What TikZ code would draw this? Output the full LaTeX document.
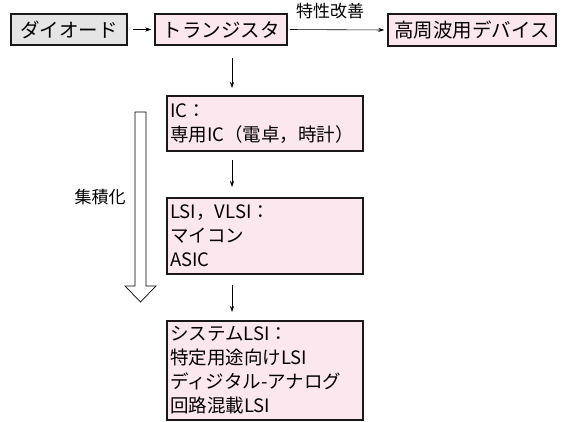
\documentclass[tikz,border=0pt]{standalone}
\usepackage{fontspec}
\setmainfont{Noto Sans CJK JP}
\usetikzlibrary{arrows.meta,calc}
\definecolor{pinkfill}{RGB}{252,231,239}
\definecolor{grayfill}{RGB}{229,229,229}
\definecolor{edge}{RGB}{25,25,25}
\begin{document}
\begin{tikzpicture}[x=1pt,y=-1pt,
  box/.style={draw=edge,line width=1.5pt,fill=pinkfill,inner sep=0pt,font=\fontsize{18.5}{24}\selectfont},
  topbox/.style={box,minimum height=31pt,font=\fontsize{19.5}{24}\selectfont},
  listbox/.style={box,text width=189pt,align=left,minimum width=196pt,anchor=north west,inner xsep=3.5pt,inner ysep=3pt},
  arr/.style={-{Stealth[length=6pt,width=4pt]},line width=0.6pt,draw=black},
  lab/.style={font=\fontsize{17}{20}\selectfont}
]
\useasboundingbox (0,0) rectangle (561,421);
\node[topbox,fill=grayfill,minimum width=116pt] (di) at (69,29.5) {ダイオード};
\node[topbox,minimum width=132pt] (tr) at (221,29.5) {トランジスタ};
\node[topbox,minimum width=168pt,minimum height=32pt] (hf) at (472,30) {高周波用デバイス};
\node[listbox,minimum height=55pt] (ic) at (166,95) {IC：\\専用IC（電卓，時計）};
\node[listbox,minimum height=76pt] (lsi) at (166,197) {LSI，VLSI：\\マイコン\\ASIC};
\node[listbox,minimum height=99pt] (sys) at (166,320) {システムLSI：\\特定用途向けLSI\\ディジタル-アナログ\\回路混載LSI};
\coordinate (vx) at (232,0);
\draw[arr,shorten <=5pt,shorten >=3pt] (di.east) -- (tr.west);
\draw[arr,shorten <=2pt,shorten >=3pt] (tr.east) -- (hf.west);
\node[lab] (imp) at (330,11) {特性改善};
\draw[arr,shorten <=12pt,shorten >=7pt] (tr.south -| vx) -- (ic.north -| vx);
\draw[arr,shorten <=8pt,shorten >=10pt] (ic.south -| vx) -- (lsi.north -| vx);
\draw[arr,shorten <=10pt,shorten >=8pt] (lsi.south -| vx) -- (sys.north -| vx);
\draw[line width=0.7pt,fill=white] (135,112) -- (146,112) -- (146,286) -- (156,286) -- (140.5,302) -- (125,286) -- (135,286) -- cycle;
\node[lab] (int) at (100,197) {集積化};
\end{tikzpicture}
\end{document}
